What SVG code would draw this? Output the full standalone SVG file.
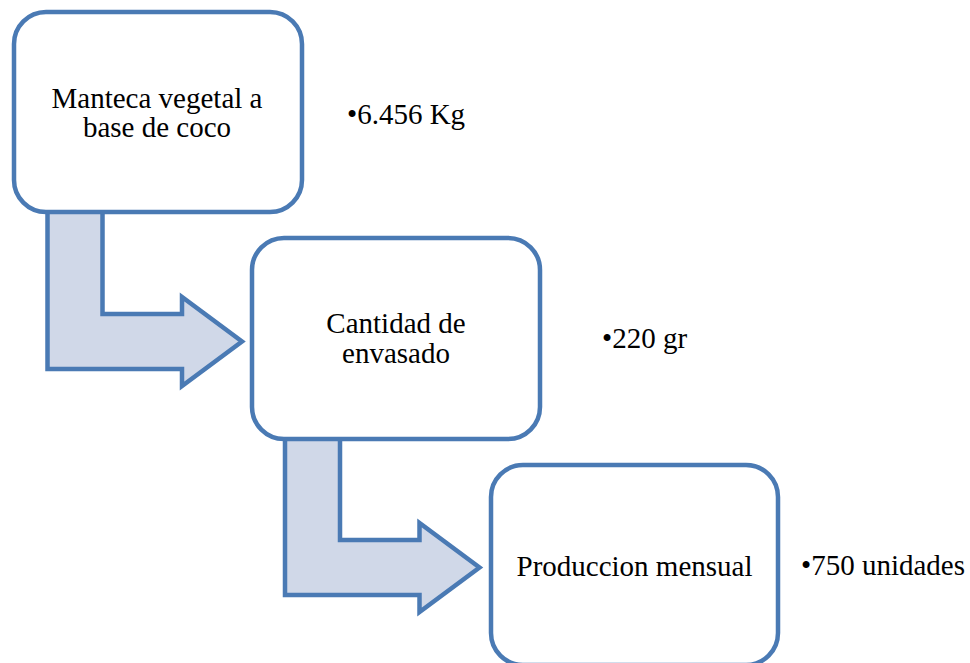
<svg xmlns="http://www.w3.org/2000/svg" width="970" height="663" viewBox="0 0 970 663">
<style>
.arrow{fill:#d0d8e8;stroke:#4a7ab4;stroke-width:4.5;stroke-linejoin:miter}
.box{fill:#ffffff;stroke:#4a7ab4;stroke-width:4.5}
.t{font-family:"Liberation Serif","Times New Roman",serif;font-size:29px;fill:#000000}
.c{text-anchor:middle}
</style>
<rect width="970" height="663" fill="#ffffff"/>
<g id="connectors">
<path class="arrow" d="M47.5,200 L102.5,200 L102.5,314 L182,314 L182,297 L242,341.5 L182,386 L182,369 L47.5,369 Z"/>
<path class="arrow" d="M285,426 L340,426 L340,540 L419.5,540 L419.5,523 L479.5,567.5 L419.5,612 L419.5,595 L285,595 Z"/>
</g>
<g id="node1">
<rect class="box" x="14" y="12" width="288" height="200" rx="32" ry="32"/>
<text class="t c" x="157" y="108">Manteca vegetal a</text>
<text class="t c" x="157" y="137">base de coco</text>
</g>
<g id="node2">
<rect class="box" x="252" y="238" width="288" height="201" rx="32" ry="32"/>
<text class="t c" x="396" y="333">Cantidad de</text>
<text class="t c" x="396" y="363">envasado</text>
</g>
<g id="node3">
<rect class="box" x="491" y="465" width="287" height="200" rx="32" ry="32"/>
<text class="t c" x="634.5" y="576">Produccion mensual</text>
</g>
<g id="label1"><text class="t" x="347" y="124">•6.456 Kg</text></g>
<g id="label2"><text class="t" x="602" y="348">•220 gr</text></g>
<g id="label3"><text class="t" x="801" y="575">•750 unidades</text></g>
</svg>
